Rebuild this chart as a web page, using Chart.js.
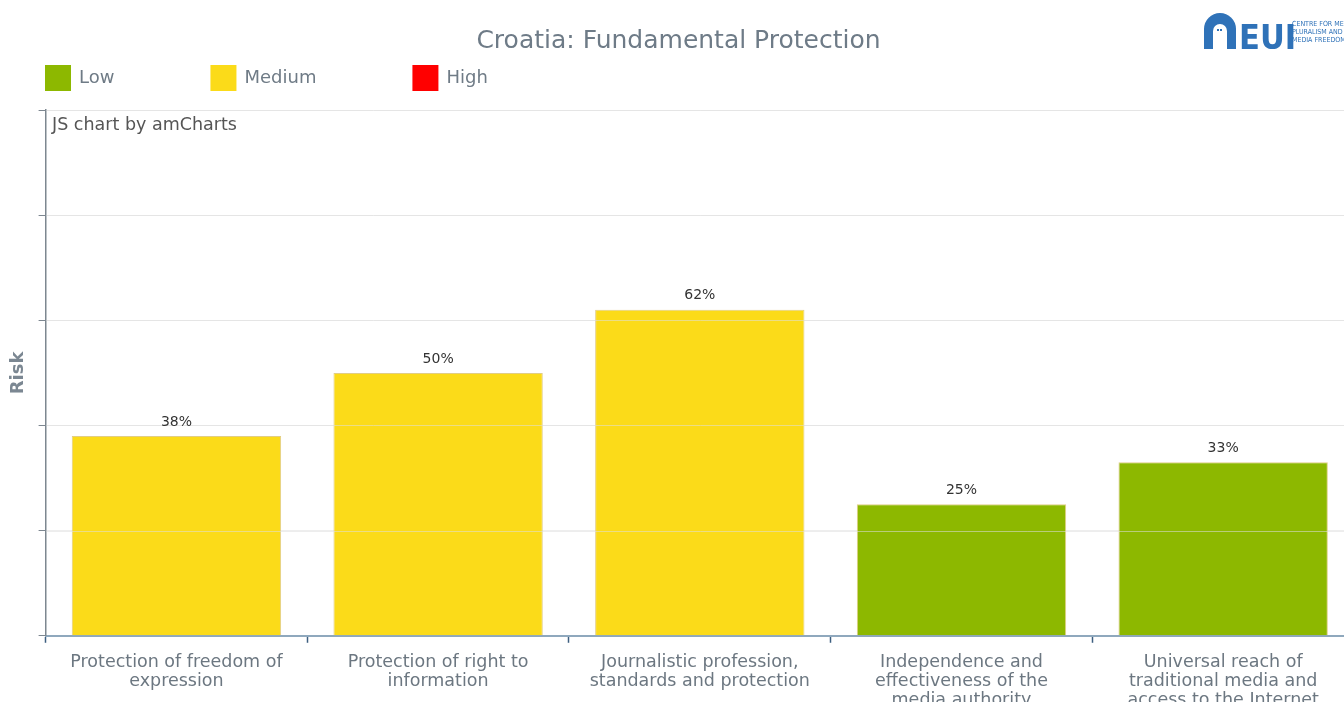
<!DOCTYPE html>
<html><head><meta charset="utf-8">
<script src="https://cdn.jsdelivr.net/npm/chart.js@4.4.1/dist/chart.umd.min.js"></script>
<style>
html,body{margin:0;padding:0;overflow:hidden;background:#fff;width:1344px;height:702px}
#wrap{position:absolute;left:0;top:0;width:1400px;height:730px}
canvas{display:block}
</style></head><body>
<div id="wrap"><canvas id="c" width="1400" height="730"></canvas></div>
<script>
const chartTitle = "Croatia: Fundamental Protection";
const categories = [
  ["Protection of freedom of","expression"],
  ["Protection of right to","information"],
  ["Journalistic profession,","standards and protection"],
  ["Independence and","effectiveness of the","media authority"],
  ["Universal reach of","traditional media and","access to the Internet"]
];
const riskValues = [38, 50, 62, 25, 33];
const riskLevels = ["Medium", "Medium", "Medium", "Low", "Low"];
const legendNames = ["Low", "Medium", "High"];
const legendColors = ["#8db800", "#fbdb19", "#ff0000"];
const yTicks = [0, 20, 40, 60, 80, 100];

const FONT = "'DejaVu Sans', Verdana, sans-serif";
const colorOf = lvl => legendColors[legendNames.indexOf(lvl)];

const overlayPlugin = {
  id: 'overlay',
  afterDatasetsDraw(chart) {
    const ctx = chart.ctx;
    const ys = chart.scales.y;
    ctx.save();
    ctx.strokeStyle = 'rgba(222,222,222,0.55)';
    ctx.lineWidth = 1;
    ys.ticks.forEach(t => {
      if (t.value === 0) return;
      const y = Math.round(ys.getPixelForValue(t.value)) + 0.5;
      ctx.beginPath(); ctx.moveTo(chart.chartArea.left + 1, y); ctx.lineTo(chart.chartArea.right, y); ctx.stroke();
    });
    const meta = chart.getDatasetMeta(0);
    ctx.fillStyle = '#333';
    ctx.font = "14px " + FONT;
    ctx.textAlign = 'center';
    ctx.textBaseline = 'middle';
    meta.data.forEach((bar, i) => {
      ctx.fillText(riskValues[i] + '%', bar.x, bar.y - 14);
    });
    ctx.restore();
  },
  afterDraw(chart) {
    const ctx = chart.ctx;
    ctx.save();
    ctx.font = "18px " + FONT;
    ctx.textBaseline = 'middle';
    ctx.textAlign = 'left';
    let x = 45;
    const yc = 78;
    legendNames.forEach((name, i) => {
      ctx.fillStyle = legendColors[i];
      ctx.fillRect(x, yc - 13, 26, 26);
      ctx.fillStyle = '#6f7b86';
      ctx.fillText(name, x + 34, yc);
      x += 34 + ctx.measureText(name).width + 96;
    });
    ctx.font = "17.5px " + FONT;
    ctx.fillStyle = '#555';
    ctx.fillText("JS chart by amCharts", 52, 125);
    const blue = '#2f72b8';
    ctx.fillStyle = blue;
    ctx.beginPath();
    ctx.moveTo(1204, 49);
    ctx.lineTo(1204, 29);
    ctx.arc(1220, 29, 16, Math.PI, 0);
    ctx.lineTo(1236, 49);
    ctx.closePath();
    ctx.fill();
    ctx.fillStyle = '#fff';
    ctx.beginPath();
    ctx.moveTo(1213, 49);
    ctx.lineTo(1213, 31);
    ctx.arc(1220, 31, 7, Math.PI, 0);
    ctx.lineTo(1227, 49);
    ctx.closePath();
    ctx.fill();
    ctx.fillStyle = blue;
    ctx.fillRect(1217, 29, 2, 2);
    ctx.fillRect(1220, 29, 2, 2);
    ctx.font = "bold 34px 'Liberation Sans Narrow', 'DejaVu Sans Condensed', sans-serif";
    ctx.textBaseline = 'alphabetic';
    ctx.fillText("EUI", 1239, 49);
    ctx.font = "7px 'DejaVu Sans Condensed', sans-serif";
    ctx.fillText("CENTRE FOR MEDIA", 1292, 26);
    ctx.fillText("PLURALISM AND", 1292, 34);
    ctx.fillText("MEDIA FREEDOM", 1292, 42);
    ctx.restore();
  }
};

new Chart(document.getElementById('c'), {
  type: 'bar',
  data: {
    labels: categories,
    datasets: [{
      data: riskValues,
      backgroundColor: riskLevels.map(colorOf),
      borderColor: 'rgba(222,200,120,0.9)',
      borderWidth: 1,
      barPercentage: 0.8,
      categoryPercentage: 1.0
    }]
  },
  options: {
    responsive: false,
    animation: false,
    devicePixelRatio: 1,
    layout: { padding: { left: 3, right: 46, top: 0, bottom: 10 } },
    plugins: {
      legend: { display: false },
      tooltip: { enabled: false },
      title: {
        display: true,
        text: chartTitle,
        color: '#6e7b87',
        font: { family: FONT, size: 25, weight: 'normal' },
        padding: { top: 26, bottom: 54 }
      }
    },
    scales: {
      x: {
        offset: true,
        grid: { offset: true, drawOnChartArea: false, drawTicks: true, tickLength: 7, tickColor: '#3d5f80', tickWidth: 1.5 },
        border: { color: '#8fa8bd', width: 2 },
        ticks: { color: '#6c7781', font: { family: FONT, size: 17.5, lineHeight: 1.09 }, padding: 10, maxRotation: 0, autoSkip: false }
      },
      y: {
        min: yTicks[0],
        max: yTicks[yTicks.length - 1],
        afterBuildTicks: s => { s.ticks = yTicks.map(v => ({ value: v })); },
        ticks: { display: false, stepSize: 20 },
        grid: { color: '#eeeeee', tickLength: 7, tickColor: '#7d8790', drawTicks: true },
        border: { color: '#7d8790', width: 1.5 },
        title: { display: true, text: 'Risk', color: '#7b8792', font: { family: FONT, size: 18, weight: 'bold' }, padding: { top: 5, bottom: 9 } }
      }
    }
  },
  plugins: [overlayPlugin]
});
</script>
</body></html>
